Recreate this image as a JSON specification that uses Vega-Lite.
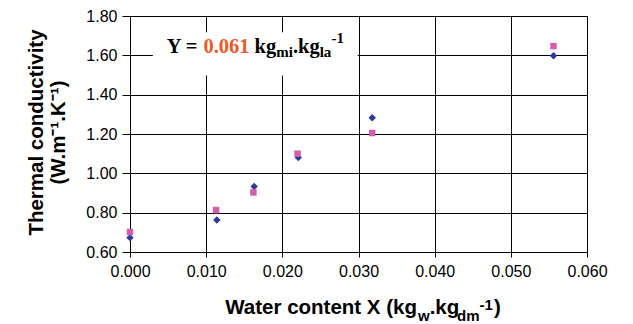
{
  "$schema": "https://vega.github.io/schema/vega-lite/v6.json",
  "width": 457,
  "height": 236,
  "autosize": "none",
  "padding": {"left": 130, "top": 16, "right": 46, "bottom": 72},
  "background": "white",
  "config": {
    "view": {"stroke": "black", "strokeWidth": 1},
    "axis": {
      "grid": true,
      "domainColor": "black",
      "tickColor": "black",
      "labelColor": "black",
      "labelFont": "Liberation Sans",
      "labelFontSize": 16,
      "gridColor": "black",
      "gridOpacity": 1,
      "gridWidth": 1,
      "labelFlush": false,
      "labelOverlap": false,
      "titleColor": "black"
    },
    "axisX": {"tickCount": 7, "format": ".3f", "tickSize": 5, "labelPadding": 6},
    "axisY": {"tickCount": 7, "format": ".2f", "tickSize": 8, "labelPadding": 5}
  },
  "layer": [
    {
      "data": {
        "values": [
          {"series": "Series 1", "x": 0.0, "y": 0.673},
          {"series": "Series 1", "x": 0.0114, "y": 0.763},
          {"series": "Series 1", "x": 0.0163, "y": 0.933},
          {"series": "Series 1", "x": 0.0221, "y": 1.080},
          {"series": "Series 1", "x": 0.0318, "y": 1.283},
          {"series": "Series 1", "x": 0.0556, "y": 1.598},
          {"series": "Series 2", "x": 0.0, "y": 0.702},
          {"series": "Series 2", "x": 0.0113, "y": 0.813},
          {"series": "Series 2", "x": 0.0162, "y": 0.903},
          {"series": "Series 2", "x": 0.0220, "y": 1.100},
          {"series": "Series 2", "x": 0.0318, "y": 1.205},
          {"series": "Series 2", "x": 0.0556, "y": 1.647}
        ]
      },
      "mark": {"type": "point", "filled": true, "opacity": 1, "strokeWidth": 0},
      "encoding": {
        "x": {
          "field": "x",
          "type": "quantitative",
          "scale": {"domain": [0, 0.06], "nice": false, "zero": false},
          "axis": {"title": null}
        },
        "y": {
          "field": "y",
          "type": "quantitative",
          "scale": {"domain": [0.6, 1.8], "nice": false, "zero": false},
          "axis": {
            "title": ["Thermal conductivity", "(W.m⁻¹.K⁻¹)"],
            "titleFont": "Liberation Sans",
            "titleFontWeight": "bold",
            "titleFontSize": 20.5,
            "titleLineHeight": 22,
            "titleAngle": -90,
            "titleAlign": "center",
            "titleBaseline": "middle",
            "titleX": -94,
            "titleY": 116
          }
        },
        "color": {
          "field": "series",
          "type": "nominal",
          "scale": {"domain": ["Series 1", "Series 2"], "range": ["#2e3a96", "#d35fab"]},
          "legend": null
        },
        "shape": {
          "field": "series",
          "type": "nominal",
          "scale": {"domain": ["Series 1", "Series 2"], "range": ["diamond", "square"]},
          "legend": null
        },
        "size": {
          "field": "series",
          "type": "nominal",
          "scale": {"domain": ["Series 1", "Series 2"], "range": [55, 42]},
          "legend": null
        }
      }
    },
    {
      "data": {"values": [{}]},
      "mark": {"type": "rect", "fill": "white"},
      "encoding": {
        "x": {"datum": 0.003, "type": "quantitative"},
        "x2": {"datum": 0.0299},
        "y": {"datum": 1.717, "type": "quantitative"},
        "y2": {"datum": 1.498}
      }
    },
    {
      "data": {"values": [{}]},
      "mark": {"type": "text", "text": "Y =", "font": "Liberation Serif", "fontWeight": "bold", "fontSize": 20.5, "align": "left", "baseline": "alphabetic", "color": "black"},
      "encoding": {"x": {"datum": 0.004818, "type": "quantitative"}, "y": {"datum": 1.6103, "type": "quantitative"}}
    },
    {
      "data": {"values": [{}]},
      "mark": {"type": "text", "text": "0.061", "font": "Liberation Serif", "fontWeight": "bold", "fontSize": 20.5, "align": "left", "baseline": "alphabetic", "color": "#ef5a28"},
      "encoding": {"x": {"datum": 0.009637, "type": "quantitative"}, "y": {"datum": 1.6103, "type": "quantitative"}}
    },
    {
      "data": {"values": [{}]},
      "mark": {"type": "text", "text": "kg", "font": "Liberation Serif", "fontWeight": "bold", "fontSize": 20.5, "align": "left", "baseline": "alphabetic", "color": "black"},
      "encoding": {"x": {"datum": 0.016359, "type": "quantitative"}, "y": {"datum": 1.6103, "type": "quantitative"}}
    },
    {
      "data": {"values": [{}]},
      "mark": {"type": "text", "text": "mi", "font": "Liberation Serif", "fontWeight": "bold", "fontSize": 15, "align": "left", "baseline": "alphabetic", "color": "black"},
      "encoding": {"x": {"datum": 0.019195, "type": "quantitative"}, "y": {"datum": 1.594, "type": "quantitative"}}
    },
    {
      "data": {"values": [{}]},
      "mark": {"type": "text", "text": ".kg", "font": "Liberation Serif", "fontWeight": "bold", "fontSize": 20.5, "align": "left", "baseline": "alphabetic", "color": "black"},
      "encoding": {"x": {"datum": 0.021388, "type": "quantitative"}, "y": {"datum": 1.6103, "type": "quantitative"}}
    },
    {
      "data": {"values": [{}]},
      "mark": {"type": "text", "text": "la", "font": "Liberation Serif", "fontWeight": "bold", "fontSize": 15, "align": "left", "baseline": "alphabetic", "color": "black"},
      "encoding": {"x": {"datum": 0.024906, "type": "quantitative"}, "y": {"datum": 1.594, "type": "quantitative"}}
    },
    {
      "data": {"values": [{}]},
      "mark": {"type": "text", "text": "-1", "font": "Liberation Serif", "fontWeight": "bold", "fontSize": 15, "align": "left", "baseline": "alphabetic", "color": "black"},
      "encoding": {"x": {"datum": 0.026442, "type": "quantitative"}, "y": {"datum": 1.6627, "type": "quantitative"}}
    },
    {
      "data": {"values": [{}]},
      "mark": {"type": "text", "text": "Water content X (kg", "font": "Liberation Sans", "fontWeight": "bold", "fontSize": 20.5, "align": "right", "baseline": "alphabetic", "color": "black"},
      "encoding": {"x": {"datum": 0.03768, "type": "quantitative"}, "y": {"datum": 0.2848, "type": "quantitative"}}
    },
    {
      "data": {"values": [{}]},
      "mark": {"type": "text", "text": "w", "font": "Liberation Sans", "fontWeight": "bold", "fontSize": 15, "align": "left", "baseline": "alphabetic", "color": "black"},
      "encoding": {"x": {"datum": 0.03781, "type": "quantitative"}, "y": {"datum": 0.2492, "type": "quantitative"}}
    },
    {
      "data": {"values": [{}]},
      "mark": {"type": "text", "text": ".kg", "font": "Liberation Sans", "fontWeight": "bold", "fontSize": 20.5, "align": "left", "baseline": "alphabetic", "color": "black"},
      "encoding": {"x": {"datum": 0.03934, "type": "quantitative"}, "y": {"datum": 0.2848, "type": "quantitative"}}
    },
    {
      "data": {"values": [{}]},
      "mark": {"type": "text", "text": "dm", "font": "Liberation Sans", "fontWeight": "bold", "fontSize": 15, "align": "left", "baseline": "alphabetic", "color": "black"},
      "encoding": {"x": {"datum": 0.04293, "type": "quantitative"}, "y": {"datum": 0.2492, "type": "quantitative"}}
    },
    {
      "data": {"values": [{}]},
      "mark": {"type": "text", "text": "-1", "font": "Liberation Sans", "fontWeight": "bold", "fontSize": 15, "align": "left", "baseline": "alphabetic", "color": "black"},
      "encoding": {"x": {"datum": 0.04589, "type": "quantitative"}, "y": {"datum": 0.3051, "type": "quantitative"}}
    },
    {
      "data": {"values": [{}]},
      "mark": {"type": "text", "text": ")", "font": "Liberation Sans", "fontWeight": "bold", "fontSize": 20.5, "align": "left", "baseline": "alphabetic", "color": "black"},
      "encoding": {"x": {"datum": 0.04779, "type": "quantitative"}, "y": {"datum": 0.2848, "type": "quantitative"}}
    }
  ]
}
